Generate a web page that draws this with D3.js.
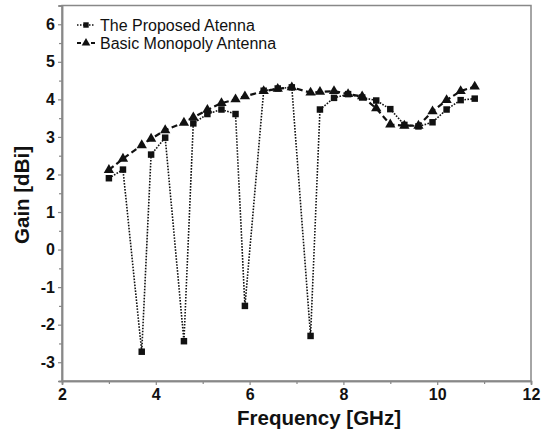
<!DOCTYPE html>
<html>
<head>
<meta charset="utf-8">
<script src="https://cdn.jsdelivr.net/npm/d3@7"></script>
<style>
  body { margin: 0; background: #fff; }
  svg text { font-family: "Liberation Sans", Arial, sans-serif !important; }
</style>
</head>
<body>
<svg id="chart" width="548" height="436"></svg>
<script>
// frequency points (GHz)
var freqs = [3.0, 3.3, 3.7, 3.9, 4.2, 4.6, 4.8, 5.1, 5.4, 5.7, 5.9, 6.3, 6.6, 6.9,
             7.3, 7.5, 7.8, 8.1, 8.4, 8.7, 9.0, 9.3, 9.6, 9.9, 10.2, 10.5, 10.8];
// gain of the proposed antenna (dBi)
var proposedGain = [1.90, 2.13, -2.72, 2.53, 2.98, -2.44, 3.36, 3.61, 3.73, 3.61, -1.50, 4.23, 4.29, 4.32,
                    -2.30, 3.73, 4.04, 4.14, 4.05, 3.97, 3.74, 3.32, 3.28, 3.39, 3.73, 3.98, 4.02];
// gain of the basic monopole antenna (dBi)
var basicGain = [2.12, 2.42, 2.78, 2.95, 3.18, 3.38, 3.52, 3.72, 3.90, 4.00, 4.08, 4.22, 4.28, 4.32,
                 4.18, 4.20, 4.22, 4.14, 4.08, 3.76, 3.33, 3.30, 3.30, 3.68, 3.98, 4.22, 4.34];
var seriesNames = ['The Proposed Atenna', 'Basic Monopoly Antenna'];
var xTicks = [2, 4, 6, 8, 10, 12];
var yTicks = [-3, -2, -1, 0, 1, 2, 3, 4, 5, 6];

var
  svg = d3.select('#chart'),
  margin = {top: 5.5, right: 17, bottom: 55, left: 62},
  width = 548 - margin.left - margin.right,
  height = 436 - margin.top - margin.bottom,
  ink = '#111'
  ;

var xScale = d3.scaleLinear().domain([2, 12]).range([0, width]);
var yScale = d3.scaleLinear().domain([-3.5, 6.5]).range([height, 0]);

// plain hyphen minus like the original figure
function fmt(d){ return String(d); }

var g = svg.append('g')
  .attr('transform', 'translate(' + margin.left + ',' + margin.top + ')');

var series = [
  {name: seriesNames[0], values: freqs.map(function(f, i){ return {x: f, y: proposedGain[i]}; }),
   dash: '1.6,1.4', width: 1.6, marker: d3.symbolSquare, size: 42},
  {name: seriesNames[1], values: freqs.map(function(f, i){ return {x: f, y: basicGain[i]}; }),
   dash: '6,3.5', width: 2.2, marker: d3.symbolTriangle, size: 46}
];

// frame
g.append('rect')
  .attr('width', width).attr('height', height)
  .attr('fill', 'none').attr('stroke', '#888').attr('stroke-width', 1.5);

// axes
g.append('g').attr('transform', 'translate(0,' + height + ')')
  .call(d3.axisBottom(xScale).tickValues(xTicks).tickFormat(fmt).tickSize(4).tickPadding(4));
g.append('g').attr('transform', 'translate(0,' + height + ')')
  .call(d3.axisBottom(xScale).tickValues([3, 5, 7, 9, 11]).tickFormat('').tickSize(3));
g.append('g')
  .call(d3.axisLeft(yScale).tickValues(yTicks).tickFormat(fmt).tickSize(4).tickPadding(3));
g.append('g')
  .call(d3.axisLeft(yScale).tickValues(d3.range(-3.5, 6.6, 1)).tickFormat('').tickSize(3));

g.selectAll('.domain').attr('stroke', '#888').attr('stroke-width', 1.5);
g.selectAll('.tick line').attr('stroke', '#888').attr('stroke-width', 1.2);
g.selectAll('.tick text')
  .attr('fill', ink).style('font-size', '16px').style('font-weight', 'bold');

// axis titles
svg.append('text')
  .attr('x', 319).attr('y', 425)
  .attr('text-anchor', 'middle')
  .style('font-size', '20.5px').style('font-weight', 'bold').attr('fill', ink)
  .text('Frequency [GHz]');

svg.append('text')
  .attr('transform', 'translate(29,195) rotate(-90)')
  .attr('text-anchor', 'middle')
  .style('font-size', '20.5px').style('font-weight', 'bold').attr('fill', ink)
  .text('Gain [dBi]');

// lines and markers
var line = d3.line()
  .x(function(d){ return xScale(d.x); })
  .y(function(d){ return yScale(d.y); });

series.forEach(function(s){
  g.append('path')
    .datum(s.values)
    .attr('d', line)
    .attr('fill', 'none')
    .attr('stroke', ink)
    .attr('stroke-width', s.width)
    .attr('stroke-dasharray', s.dash);

  g.selectAll(null)
    .data(s.values)
    .enter().append('path')
    .attr('transform', function(d){ return 'translate(' + xScale(d.x) + ',' + yScale(d.y) + ')'; })
    .attr('d', d3.symbol().type(s.marker).size(s.size))
    .attr('fill', ink);
});

// legend
var legend = g.append('g').attr('transform', 'translate(15,19.5)');
series.forEach(function(s, i){
  var row = legend.append('g').attr('transform', 'translate(0,' + (i * 18) + ')');
  row.append('line')
    .attr('x1', 0).attr('x2', 18)
    .attr('stroke', ink).attr('stroke-width', s.width)
    .attr('stroke-dasharray', i === 0 ? '1.5,1.5' : '4,3');
  row.append('path')
    .attr('transform', 'translate(9,0)')
    .attr('d', d3.symbol().type(s.marker).size(s.size * 0.7))
    .attr('fill', ink);
  row.append('text')
    .attr('x', 23).attr('dy', '0.35em')
    .style('font-size', '16px').attr('fill', ink)
    .text(s.name);
});
</script>
</body>
</html>
